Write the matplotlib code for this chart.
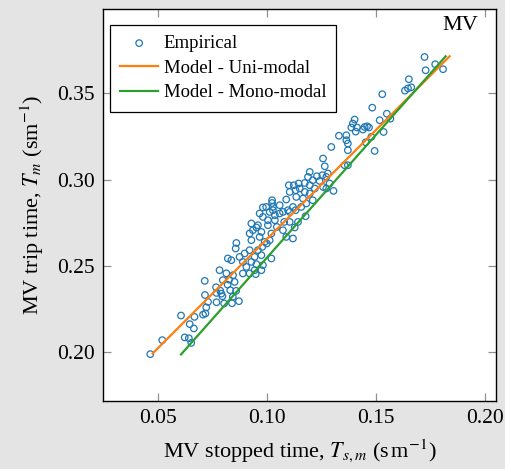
import matplotlib
matplotlib.use("Agg")
import matplotlib.pyplot as plt

plt.rcParams['font.family'] = ['Liberation Serif', 'DejaVu Serif']
plt.rcParams['mathtext.fontset'] = 'stix'

# Empirical points: MV stopped time (x) and MV trip time (y)
stopped_time = [
    0.0465, 0.0520, 0.0606, 0.0623, 0.0642, 0.0653, 0.0646, 0.0665, 0.0668, 0.0707,
    0.0718, 0.0722, 0.0730, 0.0716, 0.0715, 0.0767, 0.0769, 0.0786, 0.0791, 0.0769,
    0.0796, 0.0804, 0.0832, 0.0844, 0.0840, 0.0872, 0.0859, 0.0852, 0.0820, 0.0827,
    0.0845, 0.0814, 0.0783, 0.0798, 0.0890, 0.0921, 0.0949,
    0.0821, 0.0837, 0.0860, 0.0857, 0.0875, 0.0890, 0.0898, 0.0906, 0.0921, 0.0929,
    0.0921, 0.0936, 0.0929, 0.0959, 0.0975, 0.0967, 0.0990, 0.0979, 0.0959, 0.0944,
    0.0929, 0.0975, 0.1000, 0.1013, 0.1021, 0.1021, 0.1005, 0.0982, 0.0967, 0.0982,
    0.1013, 0.1028, 0.1059, 0.1059, 0.1037, 0.1037, 0.1046, 0.1074, 0.1089, 0.1105,
    0.1132, 0.1105, 0.0944, 0.0975, 0.0982, 0.0952, 0.0952, 0.1005, 0.0997, 0.1024,
    0.1024, 0.1028, 0.1074, 0.1097, 0.1120, 0.1080, 0.1143, 0.1178, 0.1128, 0.1120,
    0.1089, 0.1135, 0.1166, 0.1181, 0.1211, 0.1158, 0.1101, 0.1105, 0.1132, 0.1146,
    0.1151, 0.1174, 0.1174, 0.1197, 0.1220, 0.1197, 0.1197, 0.1189, 0.1211, 0.1230,
    0.1242, 0.1258, 0.1273, 0.1288, 0.1273, 0.1280, 0.1306, 0.1258, 0.1266, 0.1296,
    0.1255, 0.1124,
    0.1331, 0.1365, 0.1365, 0.1372, 0.1372, 0.1357, 0.1372, 0.1388, 0.1395, 0.1403,
    0.1414, 0.1408, 0.1441, 0.1449, 0.1460, 0.1469, 0.1480, 0.1454, 0.1495, 0.1536,
    0.1518, 0.1567, 0.1551, 0.1484, 0.1530, 0.1634, 0.1648, 0.1663, 0.1652, 0.1724,
    0.1729, 0.1773, 0.1809,
]
trip_time = [
    0.1987, 0.2068, 0.2211, 0.2084, 0.2079, 0.2052, 0.2161, 0.2136, 0.2203, 0.2216,
    0.2223, 0.2258, 0.2290, 0.2330, 0.2412, 0.2375, 0.2342, 0.2355, 0.2338, 0.2288,
    0.2323, 0.2281, 0.2358, 0.2320, 0.2282, 0.2294, 0.2354, 0.2406, 0.2390, 0.2419,
    0.2445, 0.2456, 0.2474, 0.2416, 0.2455, 0.2455, 0.2451,
    0.2542, 0.2532, 0.2632, 0.2600, 0.2551, 0.2522, 0.2571, 0.2493, 0.2590, 0.2648,
    0.2687, 0.2706, 0.2745, 0.2735, 0.2696, 0.2667, 0.2638, 0.2609, 0.2590, 0.2551,
    0.2522, 0.2561, 0.2629, 0.2648, 0.2687, 0.2542, 0.2764, 0.2783, 0.2803, 0.2838,
    0.2812, 0.2841, 0.2851, 0.2803, 0.2793, 0.2764, 0.2725, 0.2706, 0.2667, 0.2754,
    0.2822, 0.2812, 0.2474, 0.2474, 0.2503, 0.2509, 0.2722, 0.2735, 0.2841, 0.2880,
    0.2864, 0.2822, 0.2812, 0.2822, 0.2841, 0.2754, 0.2754, 0.2787, 0.2722, 0.2658,
    0.2884, 0.2899, 0.2890, 0.2861, 0.2880, 0.2841, 0.2967, 0.2928, 0.2938, 0.2977,
    0.2948, 0.2928, 0.2980, 0.2967, 0.2948, 0.2919, 0.3044, 0.3015, 0.2996, 0.3019,
    0.2992, 0.2957, 0.2948, 0.2977, 0.3015, 0.3035, 0.2934, 0.3122, 0.3077, 0.3189,
    0.3025, 0.2967,
    0.3254, 0.3257, 0.3228, 0.3209, 0.3170, 0.3083, 0.3083, 0.3302, 0.3325, 0.3348,
    0.3302, 0.3278, 0.3290, 0.3305, 0.3309, 0.3302, 0.3248, 0.3216, 0.3166, 0.3276,
    0.3344, 0.3353, 0.3382, 0.3417, 0.3495, 0.3516, 0.3529, 0.3535, 0.3582, 0.3711,
    0.3634, 0.3669, 0.3640,
]

# Model lines
uni_x = [0.0476, 0.1839]
uni_y = [0.1991, 0.3715]
mono_x = [0.0606, 0.1821]
mono_y = [0.1985, 0.3715]

x_ticks = [0.05, 0.10, 0.15, 0.20]
y_ticks = [0.20, 0.25, 0.30, 0.35]

fig = plt.figure(figsize=(5.06, 4.69), dpi=100, facecolor='#e4e4e4')
ax = fig.add_axes([0.2036, 0.145, 0.7766, 0.836])
ax.set_facecolor('white')

ax.scatter(stopped_time, trip_time, s=22, facecolors='none', edgecolors='#1f77b4',
           linewidths=0.9, label='Empirical', zorder=2)
ax.plot(uni_x, uni_y, color='#ff7f0e', lw=1.6, label='Model - Uni-modal', zorder=3)
ax.plot(mono_x, mono_y, color='#2ca02c', lw=1.6, label='Model - Mono-modal', zorder=3)

ax.set_xlim(0.0248, 0.2052)
ax.set_ylim(0.1715, 0.3990)
ax.set_xticks(x_ticks)
ax.set_yticks(y_ticks)
ax.set_xticklabels([f'{v:.2f}' for v in x_ticks])
ax.set_yticklabels([f'{v:.2f}' for v in y_ticks])
ax.tick_params(direction='in', length=6, width=0.9, color='#909090',
               top=True, right=True, labelsize=15.5, pad=6)
for sp in ax.spines.values():
    sp.set_color('black')
    sp.set_linewidth(1.0)

ax.set_xlabel(r'MV stopped time, $T_{s,m}$ (s$\,$m$^{-1}$)', fontsize=16, labelpad=6)
ax.set_ylabel(r'MV trip time, $T_m$ (sm$^{-1}$)', fontsize=16, labelpad=8)

ax.text(0.955, 0.958, 'MV', transform=ax.transAxes, ha='right', va='center', fontsize=16)

leg = ax.legend(loc='upper left', bbox_to_anchor=(0.018, 0.96), borderaxespad=0,
                fontsize=13.5, fancybox=False, framealpha=1, edgecolor='black',
                handlelength=2.0, handletextpad=0.3, borderpad=0.55, labelspacing=0.4)
leg.get_frame().set_linewidth(0.9)

fig.savefig('out.png', dpi=100, facecolor=fig.get_facecolor())
